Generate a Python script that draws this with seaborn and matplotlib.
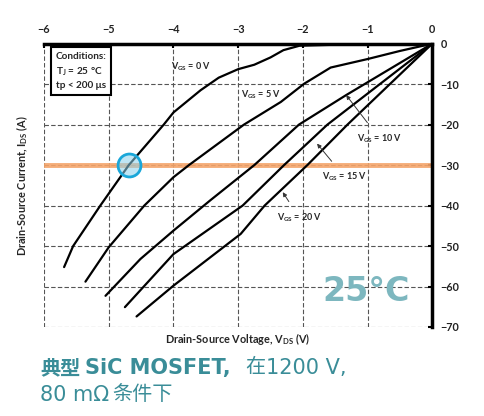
import numpy as np
import pandas as pd
import matplotlib
matplotlib.use("Agg")
import matplotlib.pyplot as plt
import seaborn as sns

# curves: V_DS (V) vs I_DS (A), one pair per gate voltage
vgs_levels = ["0 V", "5 V", "10 V", "15 V", "20 V"]

vds_0 = [0, -1.0, -1.6, -2.05, -2.3, -2.5, -2.75, -3.0, -3.3, -3.58, -4.0, -4.15, -4.69, -5.13, -5.55, -5.69]
ids_0 = [0, -0.1, -0.3, -0.5, -1.6, -3.4, -5.2, -6.3, -8.4, -11.5, -17, -20, -30, -40, -50, -55.2]

vds_5 = [0, -0.5, -1.0, -1.57, -1.98, -2.34, -2.91, -3.76, -4.0, -4.45, -5.0, -5.36]
ids_5 = [0, -1.8, -3.8, -5.9, -9.9, -14.4, -20, -30, -33, -40, -50.3, -58.8]

vds_10 = [0, -1.33, -2.06, -2.75, -3.43, -4.0, -4.51, -5.05]
ids_10 = [0, -12.7, -20, -30, -38.7, -46.2, -53.2, -62.3]

vds_15 = [0, -1.62, -2.29, -2.93, -4.0, -4.75]
ids_15 = [0, -20, -30, -40, -52, -65.1]

vds_20 = [0, -1.31, -1.93, -2.59, -2.96, -4.0, -4.57]
ids_20 = [0, -20, -30, -40, -47, -59.8, -67.4]

x_ticks = [-6, -5, -4, -3, -2, -1, 0]
y_ticks = [0, -10, -20, -30, -40, -50, -60, -70]

marker_i = -30      # orange reference current
marker_v = -4.69    # where V_GS = 0 V crosses it

df = pd.concat([
    pd.DataFrame({"vds": v, "ids": i, "vgs": name})
    for v, i, name in zip(
        [vds_0, vds_5, vds_10, vds_15, vds_20],
        [ids_0, ids_5, ids_10, ids_15, ids_20],
        vgs_levels,
    )
])

sns.set_theme(style="white")
plt.rcParams["font.family"] = ["Lato", "DejaVu Sans"]
plt.rcParams["mathtext.fontset"] = "custom"
plt.rcParams["mathtext.rm"] = "Lato:bold"
plt.rcParams["mathtext.it"] = "Lato:bold"
plt.rcParams["mathtext.bf"] = "Lato:bold"

fig = plt.figure(figsize=(4.84, 4.16), dpi=100)
ax = fig.add_axes([0.091, 0.214, 0.802, 0.681])

ax.axhline(marker_i, color="#F4A46A", lw=3.5, alpha=0.9, zorder=1)

sns.lineplot(
    data=df,
    x="vds",
    y="ids",
    hue="vgs",
    palette=["black"] * 5,
    estimator=None,
    sort=False,
    legend=False,
    linewidth=1.6,
    ax=ax,
)

ax.plot(
    [marker_v], [marker_i],
    marker="o", markersize=16.5,
    markerfacecolor=(0.55, 0.82, 0.92, 0.55),
    markeredgecolor="#1AA7D9", markeredgewidth=2,
    zorder=5,
)

ax.set_xlim(-6, 0)
ax.set_ylim(-70, 0)
ax.set_xticks(x_ticks)
ax.set_yticks(y_ticks)
ax.xaxis.tick_top()
ax.yaxis.tick_right()
ax.tick_params(axis="both", direction="in", length=3, width=1.5, colors="black",
               labelsize=7.8, pad=6)
for lab in ax.get_xticklabels() + ax.get_yticklabels():
    lab.set_fontweight("bold")
    lab.set_color("#222222")

ax.grid(True, color="#555555", linestyle=(0, (4, 2)), linewidth=0.8)
for side in ["left", "bottom"]:
    ax.spines[side].set_visible(False)
for side in ["top", "right"]:
    ax.spines[side].set_linewidth(2.5)
    ax.spines[side].set_color("black")

ax.set_xlabel("Drain-Source Voltage, V$_\\mathrm{DS}$ (V)", fontsize=7.8,
              fontweight="bold", labelpad=3)
ax.set_ylabel("Drain-Source Current, I$_\\mathrm{DS}$ (A)", fontsize=7.8,
              fontweight="bold", labelpad=10)
ax.yaxis.set_label_position("left")
ax.xaxis.set_label_position("bottom")

ax.text(-5.82, -1.95, "Conditions:\nT$_\\mathrm{J}$ = 25 °C\ntp < 200 μs",
        fontsize=7.2, fontweight="bold", va="top", ha="left", linespacing=1.5,
        bbox=dict(boxstyle="square,pad=0.45", fc="white", ec="black", lw=1.5))

lab_kw = dict(fontsize=6.5, fontweight="bold", ha="center", va="center")
ax.text(-3.73, -5.8, "V$_\\mathrm{GS}$ = 0 V", **lab_kw)
ax.text(-2.65, -12.7, "V$_\\mathrm{GS}$ = 5 V", **lab_kw)

arrow_kw = dict(arrowstyle="-|>", color="#333333", lw=0.7, mutation_scale=6)
ax.annotate("V$_\\mathrm{GS}$ = 10 V", xy=(-1.33, -12.7), xytext=(-0.81, -23.5),
            arrowprops=dict(**arrow_kw, shrinkB=0, shrinkA=6), **lab_kw)
ax.annotate("V$_\\mathrm{GS}$ = 15 V", xy=(-1.78, -24.7), xytext=(-1.35, -33.0),
            arrowprops=dict(**arrow_kw, shrinkB=0, shrinkA=6), **lab_kw)
ax.annotate("V$_\\mathrm{GS}$ = 20 V", xy=(-2.31, -36.7), xytext=(-2.05, -43.1),
            arrowprops=dict(**arrow_kw, shrinkB=0, shrinkA=6), **lab_kw)

ax.text(-1.02, -61.3, "25°C", family="DejaVu Sans", fontsize=24,
        fontweight="bold", color="#7DB7BF", ha="center", va="center")

# caption below the chart, in pieces: CJK glyphs and Latin run in different fonts
cjk_font = ["Noto Sans CJK SC", "DejaVu Sans"]
latin_font = ["DejaVu Sans", "Noto Sans CJK SC"]
title_color = "#3A8D98"
W, H = 484, 416
line1_y, line2_y = 1 - 368 / H, 1 - 395 / H
pieces = [
    ("典型", 40, line1_y, cjk_font, 14.5, "bold"),
    ("SiC MOSFET,", 85, line1_y, latin_font, 15, "bold"),
    ("在", 245, line1_y, cjk_font, 14.5, "normal"),
    ("1200 V,", 266, line1_y, latin_font, 15, "normal"),
    ("80 mΩ", 40, line2_y, latin_font, 15, "normal"),
    ("条件下", 112, line2_y, cjk_font, 14.5, "normal"),
]
for txt, px, fy, fam, size, weight in pieces:
    fig.text(px / W, fy, txt, family=fam, fontsize=size, fontweight=weight,
             color=title_color, va="center", ha="left")

fig.savefig("out.png", dpi=100)
